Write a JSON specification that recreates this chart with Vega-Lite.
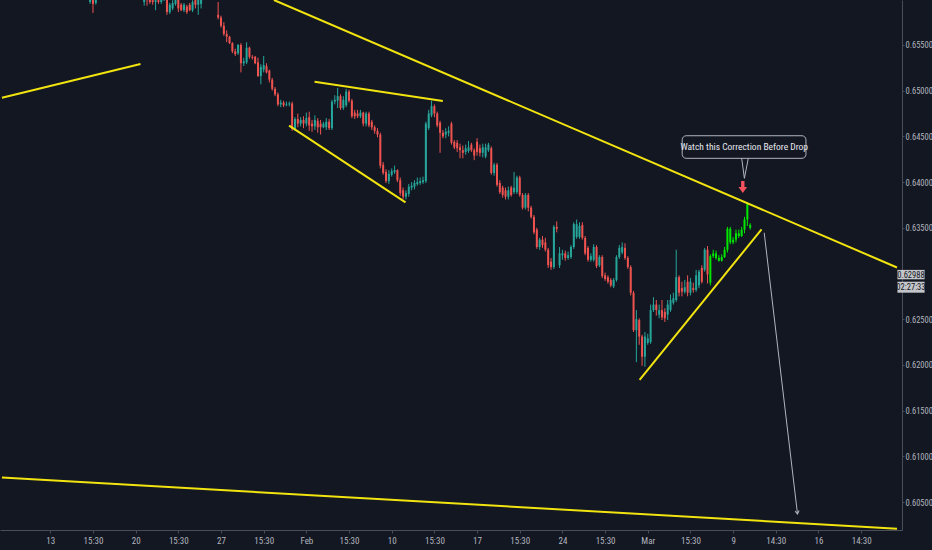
{
  "$schema": "https://vega.github.io/schema/vega-lite/v6.json",
  "description": "4h candles with drawn trend lines and a projected drop",
  "width": 902,
  "height": 530,
  "autosize": {"type": "none"},
  "padding": {"left": 0, "top": 0, "right": 30, "bottom": 20},
  "background": "#131722",
  "config": {
    "view": {"stroke": null},
    "font": "Roboto Condensed, Liberation Sans Narrow, Liberation Sans, sans-serif"
  },
  "datasets": {
    "candles": [
      {"bar": 14, "open": 0.6597, "high": 0.661, "low": 0.6595, "close": 0.6605},
      {"bar": 15, "open": 0.6602, "high": 0.6608, "low": 0.6585, "close": 0.6595},
      {"bar": 16, "open": 0.6596, "high": 0.6606, "low": 0.6594, "close": 0.6601},
      {"bar": 33, "open": 0.6597, "high": 0.6606, "low": 0.6593, "close": 0.6602},
      {"bar": 34, "open": 0.6602, "high": 0.6605, "low": 0.6593, "close": 0.6599},
      {"bar": 35, "open": 0.6601, "high": 0.6605, "low": 0.6595, "close": 0.6597},
      {"bar": 36, "open": 0.6599, "high": 0.6604, "low": 0.6594, "close": 0.6597},
      {"bar": 37, "open": 0.6597, "high": 0.6602, "low": 0.6588, "close": 0.6599},
      {"bar": 38, "open": 0.6599, "high": 0.6604, "low": 0.6595, "close": 0.6597},
      {"bar": 39, "open": 0.6597, "high": 0.6605, "low": 0.6595, "close": 0.6601},
      {"bar": 40, "open": 0.66, "high": 0.6608, "low": 0.6598, "close": 0.6604},
      {"bar": 41, "open": 0.6604, "high": 0.6606, "low": 0.6583, "close": 0.6586},
      {"bar": 42, "open": 0.6586, "high": 0.6596, "low": 0.6584, "close": 0.6594},
      {"bar": 43, "open": 0.659, "high": 0.6599, "low": 0.6588, "close": 0.6596},
      {"bar": 44, "open": 0.6595, "high": 0.6605, "low": 0.6593, "close": 0.6601},
      {"bar": 45, "open": 0.6601, "high": 0.6604, "low": 0.6586, "close": 0.659},
      {"bar": 46, "open": 0.6594, "high": 0.6596, "low": 0.6587, "close": 0.6588},
      {"bar": 47, "open": 0.6588, "high": 0.6596, "low": 0.6586, "close": 0.6594},
      {"bar": 48, "open": 0.6592, "high": 0.6594, "low": 0.6584, "close": 0.6586},
      {"bar": 49, "open": 0.6594, "high": 0.6596, "low": 0.6587, "close": 0.6588},
      {"bar": 50, "open": 0.6588, "high": 0.6599, "low": 0.6586, "close": 0.6597},
      {"bar": 51, "open": 0.6599, "high": 0.6602, "low": 0.659, "close": 0.6594},
      {"bar": 52, "open": 0.6594, "high": 0.6605, "low": 0.6583, "close": 0.6601},
      {"bar": 53, "open": 0.6595, "high": 0.6606, "low": 0.659, "close": 0.6602},
      {"bar": 59, "open": 0.6583, "high": 0.6597, "low": 0.6578, "close": 0.658},
      {"bar": 60, "open": 0.658, "high": 0.6582, "low": 0.6569, "close": 0.6571},
      {"bar": 61, "open": 0.6571, "high": 0.6575, "low": 0.656, "close": 0.6562},
      {"bar": 62, "open": 0.6562, "high": 0.6566, "low": 0.6553, "close": 0.6559},
      {"bar": 63, "open": 0.6559, "high": 0.656, "low": 0.6551, "close": 0.6552},
      {"bar": 64, "open": 0.6552, "high": 0.6553, "low": 0.6541, "close": 0.6543},
      {"bar": 65, "open": 0.6543, "high": 0.6546, "low": 0.6538, "close": 0.654},
      {"bar": 66, "open": 0.6541, "high": 0.6551, "low": 0.6539, "close": 0.655},
      {"bar": 67, "open": 0.655, "high": 0.6552, "low": 0.652, "close": 0.653},
      {"bar": 68, "open": 0.653, "high": 0.6536, "low": 0.6527, "close": 0.6532},
      {"bar": 69, "open": 0.6531, "high": 0.6553, "low": 0.6529, "close": 0.6547},
      {"bar": 70, "open": 0.6547, "high": 0.6548, "low": 0.6535, "close": 0.6537},
      {"bar": 71, "open": 0.6537, "high": 0.6539, "low": 0.6534, "close": 0.6536},
      {"bar": 72, "open": 0.6537, "high": 0.6538, "low": 0.6529, "close": 0.653},
      {"bar": 73, "open": 0.6531, "high": 0.6536, "low": 0.6515, "close": 0.6516},
      {"bar": 74, "open": 0.6516, "high": 0.6529, "low": 0.6507, "close": 0.6526},
      {"bar": 75, "open": 0.6523, "high": 0.6538, "low": 0.652, "close": 0.6528},
      {"bar": 76, "open": 0.6527, "high": 0.653, "low": 0.6519, "close": 0.652},
      {"bar": 77, "open": 0.6522, "high": 0.6523, "low": 0.6509, "close": 0.6512},
      {"bar": 78, "open": 0.6512, "high": 0.6514, "low": 0.65, "close": 0.6502},
      {"bar": 79, "open": 0.6502, "high": 0.6504, "low": 0.6494, "close": 0.6496},
      {"bar": 80, "open": 0.6496, "high": 0.6498, "low": 0.6483, "close": 0.6485},
      {"bar": 81, "open": 0.6485, "high": 0.649, "low": 0.6482, "close": 0.6487},
      {"bar": 82, "open": 0.6487, "high": 0.6489, "low": 0.6482, "close": 0.6484},
      {"bar": 83, "open": 0.6484, "high": 0.6488, "low": 0.6483, "close": 0.6485},
      {"bar": 84, "open": 0.6485, "high": 0.6488, "low": 0.6483, "close": 0.6486},
      {"bar": 85, "open": 0.6486, "high": 0.6488, "low": 0.6456, "close": 0.6458},
      {"bar": 86, "open": 0.6458, "high": 0.6471, "low": 0.6456, "close": 0.6469},
      {"bar": 87, "open": 0.6469, "high": 0.6475, "low": 0.646, "close": 0.6464},
      {"bar": 88, "open": 0.6464, "high": 0.6471, "low": 0.6461, "close": 0.6468},
      {"bar": 89, "open": 0.6468, "high": 0.6472, "low": 0.6459, "close": 0.6464},
      {"bar": 90, "open": 0.6464, "high": 0.6476, "low": 0.6461, "close": 0.647},
      {"bar": 91, "open": 0.6471, "high": 0.6477, "low": 0.6456, "close": 0.6462},
      {"bar": 92, "open": 0.6464, "high": 0.6468, "low": 0.6455, "close": 0.6461},
      {"bar": 93, "open": 0.6461, "high": 0.6473, "low": 0.6457, "close": 0.6468},
      {"bar": 94, "open": 0.6467, "high": 0.647, "low": 0.6454, "close": 0.646},
      {"bar": 95, "open": 0.6464, "high": 0.6468, "low": 0.6452, "close": 0.646},
      {"bar": 96, "open": 0.646, "high": 0.6466, "low": 0.6459, "close": 0.6464},
      {"bar": 97, "open": 0.646, "high": 0.647, "low": 0.6457, "close": 0.6466},
      {"bar": 98, "open": 0.6466, "high": 0.6469, "low": 0.6457, "close": 0.6459},
      {"bar": 99, "open": 0.6459, "high": 0.649, "low": 0.6457, "close": 0.6488},
      {"bar": 100, "open": 0.6488, "high": 0.6495, "low": 0.6485, "close": 0.649},
      {"bar": 101, "open": 0.6489, "high": 0.6503, "low": 0.6481, "close": 0.6494},
      {"bar": 102, "open": 0.6494, "high": 0.6496, "low": 0.6479, "close": 0.6481},
      {"bar": 103, "open": 0.6481, "high": 0.6494, "low": 0.6479, "close": 0.649},
      {"bar": 104, "open": 0.6484, "high": 0.6502, "low": 0.6482, "close": 0.6499},
      {"bar": 105, "open": 0.6499, "high": 0.6501, "low": 0.6487, "close": 0.6489},
      {"bar": 106, "open": 0.6489, "high": 0.6491, "low": 0.647, "close": 0.6472},
      {"bar": 107, "open": 0.6476, "high": 0.6479, "low": 0.6469, "close": 0.6472},
      {"bar": 108, "open": 0.6475, "high": 0.6479, "low": 0.647, "close": 0.6472},
      {"bar": 109, "open": 0.6472, "high": 0.6479, "low": 0.647, "close": 0.6476},
      {"bar": 110, "open": 0.6476, "high": 0.6477, "low": 0.6461, "close": 0.6464},
      {"bar": 111, "open": 0.6464, "high": 0.6477, "low": 0.6461, "close": 0.6475},
      {"bar": 112, "open": 0.6475, "high": 0.6477, "low": 0.646, "close": 0.6462},
      {"bar": 113, "open": 0.6466, "high": 0.6468, "low": 0.6457, "close": 0.646},
      {"bar": 114, "open": 0.646, "high": 0.6462, "low": 0.6453, "close": 0.6456},
      {"bar": 115, "open": 0.6456, "high": 0.6459, "low": 0.6449, "close": 0.6452},
      {"bar": 116, "open": 0.6452, "high": 0.6454, "low": 0.6415, "close": 0.6418},
      {"bar": 117, "open": 0.6419, "high": 0.6422, "low": 0.6408, "close": 0.641},
      {"bar": 118, "open": 0.6411, "high": 0.6414, "low": 0.6399, "close": 0.6401},
      {"bar": 119, "open": 0.6401, "high": 0.6413, "low": 0.6398, "close": 0.6409},
      {"bar": 120, "open": 0.6408, "high": 0.6415, "low": 0.6406, "close": 0.6412},
      {"bar": 121, "open": 0.6411, "high": 0.6418, "low": 0.6409, "close": 0.6413},
      {"bar": 122, "open": 0.6413, "high": 0.6414, "low": 0.64, "close": 0.6402},
      {"bar": 123, "open": 0.6402, "high": 0.6405, "low": 0.6385, "close": 0.6388},
      {"bar": 124, "open": 0.6391, "high": 0.6394, "low": 0.6381, "close": 0.6384},
      {"bar": 125, "open": 0.6384, "high": 0.6391, "low": 0.6381, "close": 0.6388},
      {"bar": 126, "open": 0.6387, "high": 0.6398, "low": 0.6384, "close": 0.6395},
      {"bar": 127, "open": 0.6394, "high": 0.64, "low": 0.6391, "close": 0.6396},
      {"bar": 128, "open": 0.6395, "high": 0.6402, "low": 0.6392, "close": 0.6399},
      {"bar": 129, "open": 0.6398, "high": 0.6405, "low": 0.6396, "close": 0.64},
      {"bar": 130, "open": 0.6399, "high": 0.6405, "low": 0.6397, "close": 0.6401},
      {"bar": 131, "open": 0.64, "high": 0.6406, "low": 0.6398, "close": 0.6402},
      {"bar": 132, "open": 0.6401, "high": 0.6466, "low": 0.6399, "close": 0.6464},
      {"bar": 133, "open": 0.6459, "high": 0.6479, "low": 0.6457, "close": 0.6475},
      {"bar": 134, "open": 0.6473, "high": 0.6489, "low": 0.6471, "close": 0.6483},
      {"bar": 135, "open": 0.6483, "high": 0.6485, "low": 0.6471, "close": 0.6475},
      {"bar": 136, "open": 0.6475, "high": 0.6477, "low": 0.646, "close": 0.6462},
      {"bar": 137, "open": 0.6465, "high": 0.6467, "low": 0.6432, "close": 0.6454},
      {"bar": 138, "open": 0.6454, "high": 0.6457, "low": 0.6448, "close": 0.645},
      {"bar": 139, "open": 0.6452, "high": 0.6459, "low": 0.6448, "close": 0.6455},
      {"bar": 140, "open": 0.6454, "high": 0.6461, "low": 0.645, "close": 0.6456},
      {"bar": 141, "open": 0.6464, "high": 0.6466, "low": 0.6441, "close": 0.6443},
      {"bar": 142, "open": 0.6444, "high": 0.6446, "low": 0.6436, "close": 0.6438},
      {"bar": 143, "open": 0.6443, "high": 0.6446, "low": 0.6433, "close": 0.6437},
      {"bar": 144, "open": 0.6438, "high": 0.6442, "low": 0.6426, "close": 0.6435},
      {"bar": 145, "open": 0.6435, "high": 0.644, "low": 0.6426, "close": 0.6432},
      {"bar": 146, "open": 0.6433, "high": 0.6441, "low": 0.643, "close": 0.6437},
      {"bar": 147, "open": 0.6434, "high": 0.6445, "low": 0.6432, "close": 0.6438},
      {"bar": 148, "open": 0.6441, "high": 0.6443, "low": 0.6433, "close": 0.6435},
      {"bar": 149, "open": 0.6435, "high": 0.6437, "low": 0.6424, "close": 0.6429},
      {"bar": 150, "open": 0.6444, "high": 0.6448, "low": 0.6429, "close": 0.6433},
      {"bar": 151, "open": 0.6437, "high": 0.6441, "low": 0.6428, "close": 0.6432},
      {"bar": 152, "open": 0.6432, "high": 0.6442, "low": 0.6427, "close": 0.6438},
      {"bar": 153, "open": 0.6428, "high": 0.6442, "low": 0.6426, "close": 0.6438},
      {"bar": 154, "open": 0.6435, "high": 0.6443, "low": 0.6433, "close": 0.6441},
      {"bar": 155, "open": 0.6437, "high": 0.6439, "low": 0.6408, "close": 0.641},
      {"bar": 156, "open": 0.641, "high": 0.6421, "low": 0.6407, "close": 0.6419},
      {"bar": 157, "open": 0.6419, "high": 0.6421, "low": 0.6395, "close": 0.6397},
      {"bar": 158, "open": 0.6399, "high": 0.6402, "low": 0.6387, "close": 0.6389},
      {"bar": 159, "open": 0.6394, "high": 0.6396, "low": 0.6383, "close": 0.6386},
      {"bar": 160, "open": 0.6391, "high": 0.6394, "low": 0.6381, "close": 0.6384},
      {"bar": 161, "open": 0.6384, "high": 0.6395, "low": 0.6381, "close": 0.6391},
      {"bar": 162, "open": 0.6394, "high": 0.6396, "low": 0.6384, "close": 0.6386},
      {"bar": 163, "open": 0.6389, "high": 0.6411, "low": 0.6387, "close": 0.6394},
      {"bar": 164, "open": 0.6389, "high": 0.6407, "low": 0.6387, "close": 0.6405},
      {"bar": 165, "open": 0.6405, "high": 0.6407, "low": 0.6384, "close": 0.6386},
      {"bar": 166, "open": 0.6386, "high": 0.6388, "low": 0.637, "close": 0.6372},
      {"bar": 167, "open": 0.6372, "high": 0.6388, "low": 0.637, "close": 0.6386},
      {"bar": 168, "open": 0.6386, "high": 0.6388, "low": 0.6368, "close": 0.6372},
      {"bar": 169, "open": 0.6372, "high": 0.6374, "low": 0.636, "close": 0.6362},
      {"bar": 170, "open": 0.6362, "high": 0.6364, "low": 0.6343, "close": 0.6345},
      {"bar": 171, "open": 0.6348, "high": 0.635, "low": 0.6327, "close": 0.6329},
      {"bar": 172, "open": 0.6329, "high": 0.6339, "low": 0.6326, "close": 0.6337},
      {"bar": 173, "open": 0.6337, "high": 0.6341, "low": 0.6328, "close": 0.6331},
      {"bar": 174, "open": 0.6334, "high": 0.6339, "low": 0.6324, "close": 0.6326},
      {"bar": 175, "open": 0.6326, "high": 0.6328, "low": 0.6306, "close": 0.6309},
      {"bar": 176, "open": 0.6313, "high": 0.6317, "low": 0.6304, "close": 0.6307},
      {"bar": 177, "open": 0.6307, "high": 0.6353, "low": 0.6305, "close": 0.6351},
      {"bar": 178, "open": 0.6351, "high": 0.6357, "low": 0.6345, "close": 0.6349},
      {"bar": 179, "open": 0.6309, "high": 0.6329, "low": 0.6306, "close": 0.6322},
      {"bar": 180, "open": 0.632, "high": 0.6326, "low": 0.6315, "close": 0.6322},
      {"bar": 181, "open": 0.6322, "high": 0.6325, "low": 0.6314, "close": 0.6317},
      {"bar": 182, "open": 0.6317, "high": 0.6324, "low": 0.6315, "close": 0.632},
      {"bar": 183, "open": 0.6318, "high": 0.6331, "low": 0.6316, "close": 0.6329},
      {"bar": 184, "open": 0.6329, "high": 0.6356, "low": 0.6327, "close": 0.6354},
      {"bar": 185, "open": 0.634, "high": 0.6359, "low": 0.6338, "close": 0.6354},
      {"bar": 186, "open": 0.634, "high": 0.6356, "low": 0.6338, "close": 0.6352},
      {"bar": 187, "open": 0.6353, "high": 0.6356, "low": 0.6337, "close": 0.6339},
      {"bar": 188, "open": 0.6339, "high": 0.6341, "low": 0.632, "close": 0.6322},
      {"bar": 189, "open": 0.6328, "high": 0.633, "low": 0.6313, "close": 0.6315},
      {"bar": 190, "open": 0.6315, "high": 0.6322, "low": 0.6313, "close": 0.6319},
      {"bar": 191, "open": 0.6315, "high": 0.6332, "low": 0.6313, "close": 0.6329},
      {"bar": 192, "open": 0.6329, "high": 0.6331, "low": 0.6306, "close": 0.6308},
      {"bar": 193, "open": 0.6309, "high": 0.632, "low": 0.6307, "close": 0.6318},
      {"bar": 194, "open": 0.6318, "high": 0.632, "low": 0.6295, "close": 0.6297},
      {"bar": 195, "open": 0.6298, "high": 0.6301, "low": 0.6292, "close": 0.6294},
      {"bar": 196, "open": 0.6296, "high": 0.6298, "low": 0.6289, "close": 0.6291},
      {"bar": 197, "open": 0.6293, "high": 0.6295, "low": 0.6285, "close": 0.6287},
      {"bar": 198, "open": 0.6286, "high": 0.6295, "low": 0.6284, "close": 0.6293},
      {"bar": 199, "open": 0.6293, "high": 0.632, "low": 0.6291, "close": 0.6318},
      {"bar": 200, "open": 0.6318, "high": 0.6331, "low": 0.6316, "close": 0.6328},
      {"bar": 201, "open": 0.6323, "high": 0.6334, "low": 0.6321, "close": 0.6329},
      {"bar": 202, "open": 0.6328, "high": 0.6333, "low": 0.6315, "close": 0.6317},
      {"bar": 203, "open": 0.6317, "high": 0.6319, "low": 0.6305, "close": 0.6307},
      {"bar": 204, "open": 0.6307, "high": 0.6309, "low": 0.6276, "close": 0.6279},
      {"bar": 205, "open": 0.6279, "high": 0.6281, "low": 0.6236, "close": 0.6238},
      {"bar": 206, "open": 0.6238, "high": 0.626, "low": 0.6203, "close": 0.625},
      {"bar": 207, "open": 0.6249, "high": 0.6251, "low": 0.6222, "close": 0.6231},
      {"bar": 208, "open": 0.6231, "high": 0.6233, "low": 0.6199, "close": 0.6209},
      {"bar": 209, "open": 0.6209, "high": 0.6236, "low": 0.6198, "close": 0.6231},
      {"bar": 210, "open": 0.6224, "high": 0.6234, "low": 0.6222, "close": 0.6229},
      {"bar": 211, "open": 0.6225, "high": 0.6266, "low": 0.6223, "close": 0.626},
      {"bar": 212, "open": 0.626, "high": 0.6274, "low": 0.6258, "close": 0.6266},
      {"bar": 213, "open": 0.6266, "high": 0.6271, "low": 0.6254, "close": 0.626},
      {"bar": 214, "open": 0.6255, "high": 0.6266, "low": 0.6251, "close": 0.626},
      {"bar": 215, "open": 0.626, "high": 0.6271, "low": 0.6249, "close": 0.6252},
      {"bar": 216, "open": 0.6258, "high": 0.6262, "low": 0.6247, "close": 0.6251},
      {"bar": 217, "open": 0.6255, "high": 0.6271, "low": 0.6249, "close": 0.6266},
      {"bar": 218, "open": 0.626, "high": 0.6277, "low": 0.6258, "close": 0.6271},
      {"bar": 219, "open": 0.6268, "high": 0.6279, "low": 0.6266, "close": 0.6273},
      {"bar": 220, "open": 0.6271, "high": 0.6326, "low": 0.6269, "close": 0.6296},
      {"bar": 221, "open": 0.6296, "high": 0.6298, "low": 0.6275, "close": 0.6279},
      {"bar": 222, "open": 0.6284, "high": 0.6291, "low": 0.6275, "close": 0.628},
      {"bar": 223, "open": 0.628, "high": 0.6293, "low": 0.6278, "close": 0.6285},
      {"bar": 224, "open": 0.6291, "high": 0.6298, "low": 0.6275, "close": 0.6279},
      {"bar": 225, "open": 0.6279, "high": 0.6295, "low": 0.6276, "close": 0.6291},
      {"bar": 226, "open": 0.6284, "high": 0.629, "low": 0.6279, "close": 0.6282},
      {"bar": 227, "open": 0.6282, "high": 0.6304, "low": 0.628, "close": 0.6298},
      {"bar": 228, "open": 0.6287, "high": 0.6304, "low": 0.6284, "close": 0.6302},
      {"bar": 229, "open": 0.6306, "high": 0.6309, "low": 0.6289, "close": 0.6291},
      {"bar": 230, "open": 0.6304, "high": 0.6328, "low": 0.6302, "close": 0.6326},
      {"bar": 231, "open": 0.6326, "high": 0.633, "low": 0.6289, "close": 0.6299},
      {"bar": 232, "open": 0.629, "high": 0.6321, "low": 0.6287, "close": 0.6319},
      {"bar": 233, "open": 0.6319, "high": 0.6326, "low": 0.6317, "close": 0.6322},
      {"bar": 234, "open": 0.6322, "high": 0.6325, "low": 0.6315, "close": 0.6317},
      {"bar": 235, "open": 0.6317, "high": 0.632, "low": 0.6313, "close": 0.6314},
      {"bar": 236, "open": 0.6314, "high": 0.6321, "low": 0.6313, "close": 0.6318},
      {"bar": 237, "open": 0.6318, "high": 0.6329, "low": 0.6317, "close": 0.6326},
      {"bar": 238, "open": 0.6326, "high": 0.6351, "low": 0.6323, "close": 0.6349},
      {"bar": 239, "open": 0.6349, "high": 0.6351, "low": 0.6332, "close": 0.6334},
      {"bar": 240, "open": 0.6334, "high": 0.634, "low": 0.6332, "close": 0.6337},
      {"bar": 241, "open": 0.6337, "high": 0.6348, "low": 0.6334, "close": 0.6344},
      {"bar": 242, "open": 0.6344, "high": 0.6348, "low": 0.6339, "close": 0.6341},
      {"bar": 243, "open": 0.6341, "high": 0.6351, "low": 0.634, "close": 0.6348},
      {"bar": 244, "open": 0.6348, "high": 0.6362, "low": 0.6344, "close": 0.6359},
      {"bar": 245, "open": 0.6359, "high": 0.6378, "low": 0.6352, "close": 0.6376},
      {"bar": 246, "open": 0.6353, "high": 0.6355, "low": 0.6348, "close": 0.635}
    ],
    "trendlines": [
      {"line": "left", "bar": -17, "price": 0.64923},
      {"line": "left", "bar": 31.7, "price": 0.65292},
      {"line": "channel", "bar": 78.6, "price": 0.65992},
      {"line": "channel", "bar": 297.6, "price": 0.63066},
      {"line": "wedge top", "bar": 92.88, "price": 0.65098},
      {"line": "wedge top", "bar": 137.96, "price": 0.64887},
      {"line": "wedge bottom", "bar": 83.94, "price": 0.64617},
      {"line": "wedge bottom", "bar": 124.85, "price": 0.63779},
      {"line": "rising", "bar": 207.13, "price": 0.61835},
      {"line": "rising", "bar": 249.98, "price": 0.63484},
      {"line": "floor", "bar": -17, "price": 0.60768},
      {"line": "floor", "bar": 297.6, "price": 0.60208}
    ],
    "projection": [
      {"bar": 250.92, "price": 0.63446},
      {"bar": 262.63, "price": 0.60369}
    ],
    "note": [
      {"bar1": 222.1, "bar2": 265.6, "top": 0.64507, "bottom": 0.6426, "bar": 243.9, "price": 0.64384, "text": "Watch this Correction Before Drop"}
    ],
    "pointer": [
      {"step": 1, "bar": 243.0, "price": 0.64263},
      {"step": 2, "bar": 243.96, "price": 0.64041},
      {"step": 3, "bar": 245.36, "price": 0.64263}
    ],
    "signal": [{"bar": 243.4, "price": 0.63946}],
    "last": [{"price": 0.62988, "label": "0.62988", "countdown": "02:27:33"}]
  },
  "resolve": {"axis": {"x": "independent", "y": "independent"}},
  "layer": [
    {
      "data": {"name": "candles"},
      "mark": {"type": "rule", "strokeWidth": 1, "clip": true},
      "encoding": {
        "x": {
          "field": "bar", "type": "quantitative",
          "scale": {"domain": [-15.92, 297.6], "nice": false, "zero": false},
          "axis": {
            "orient": "bottom", "title": null, "grid": false,
            "values": [0, 15, 30, 45, 60, 75, 90, 105, 120, 135, 150, 165, 180, 195, 210, 225, 240, 255, 270, 285],
            "labelExpr": "['13','15:30','20','15:30','27','15:30','Feb','15:30','10','15:30','17','15:30','24','15:30','Mar','15:30','9','14:30','16','14:30'][round(datum.value / 15)]",
            "domainColor": "#4a4e59", "tickColor": "#4a4e59", "tickSize": 3,
            "labelColor": "#b2b5be", "labelFontSize": 9, "labelPadding": 3,
            "labelOverlap": false, "labelFlush": false
          }
        },
        "y": {
          "field": "low", "type": "quantitative",
          "scale": {"domain": [0.60194, 0.65992], "nice": false, "zero": false},
          "axis": {
            "orient": "right", "title": null, "grid": false,
            "values": [0.605, 0.61, 0.615, 0.62, 0.625, 0.635, 0.64, 0.645, 0.65, 0.655],
            "format": ".5f",
            "domainColor": "#4a4e59", "tickColor": "#4a4e59", "tickSize": 2,
            "labelColor": "#b2b5be", "labelFontSize": 8.5, "labelPadding": 1,
            "labelOverlap": false, "labelFlush": false
          }
        },
        "y2": {"field": "high"},
        "color": {
          "condition": [
            {"test": "datum.bar >= 232", "value": "#00e600"},
            {"test": "datum.close >= datum.open", "value": "#26a69a"}
          ],
          "value": "#ef5350"
        }
      }
    },
    {
      "data": {"name": "candles"},
      "mark": {"type": "bar", "width": 2, "clip": true},
      "encoding": {
        "x": {"field": "bar", "type": "quantitative", "axis": null},
        "y": {"field": "open", "type": "quantitative", "axis": null},
        "y2": {"field": "close"},
        "color": {
          "condition": [
            {"test": "datum.bar >= 232", "value": "#00e600"},
            {"test": "datum.close >= datum.open", "value": "#26a69a"}
          ],
          "value": "#ef5350"
        }
      }
    },
    {
      "data": {"name": "trendlines"},
      "mark": {"type": "line", "color": "#f2e40f", "strokeWidth": 2, "clip": true},
      "encoding": {
        "x": {"field": "bar", "type": "quantitative", "axis": null},
        "y": {"field": "price", "type": "quantitative", "axis": null},
        "detail": {"field": "line"}
      }
    },
    {
      "data": {"name": "projection"},
      "mark": {"type": "line", "color": "#b2b5be", "strokeWidth": 1},
      "encoding": {
        "x": {"field": "bar", "type": "quantitative", "axis": null},
        "y": {"field": "price", "type": "quantitative", "axis": null}
      }
    },
    {
      "data": {"name": "projection"},
      "transform": [{"filter": "datum.bar > 260"}],
      "mark": {"type": "point", "shape": "M-1,-1.6L0,0L1,-1.6", "size": 16, "filled": false, "color": "#b2b5be", "strokeWidth": 1, "angle": -7, "opacity": 1},
      "encoding": {
        "x": {"field": "bar", "type": "quantitative", "axis": null},
        "y": {"field": "price", "type": "quantitative", "axis": null}
      }
    },
    {
      "data": {"name": "note"},
      "mark": {"type": "rect", "fill": "#131722", "stroke": "#b2b5be", "strokeWidth": 1, "cornerRadius": 4},
      "encoding": {
        "x": {"field": "bar1", "type": "quantitative", "axis": null},
        "x2": {"field": "bar2"},
        "y": {"field": "top", "type": "quantitative", "axis": null},
        "y2": {"field": "bottom"}
      }
    },
    {
      "data": {"name": "pointer"},
      "mark": {"type": "line", "color": "#b2b5be", "strokeWidth": 1},
      "encoding": {
        "x": {"field": "bar", "type": "quantitative", "axis": null},
        "y": {"field": "price", "type": "quantitative", "axis": null},
        "order": {"field": "step"}
      }
    },
    {
      "data": {"name": "note"},
      "mark": {"type": "text", "color": "#e6e8ee", "fontSize": 9.5, "align": "center", "baseline": "middle"},
      "encoding": {
        "x": {"field": "bar", "type": "quantitative", "axis": null},
        "y": {"field": "price", "type": "quantitative", "axis": null},
        "text": {"field": "text"}
      }
    },
    {
      "data": {"name": "signal"},
      "mark": {"type": "point", "shape": "M-0.28,-1L0.28,-1L0.28,0L0.72,0L0,1L-0.72,0L-0.28,0Z", "size": 144, "filled": true, "color": "#f7525f", "opacity": 1},
      "encoding": {
        "x": {"field": "bar", "type": "quantitative", "axis": null},
        "y": {"field": "price", "type": "quantitative", "axis": null}
      }
    },
    {
      "data": {"name": "last"},
      "mark": {"type": "rect", "fill": "#c3c5ca", "yOffset": -4.7, "y2Offset": 4.7},
      "encoding": {
        "x": {"datum": 297.75, "type": "quantitative", "axis": null},
        "x2": {"datum": 307.3},
        "y": {"field": "price", "type": "quantitative", "axis": null},
        "y2": {"field": "price"}
      }
    },
    {
      "data": {"name": "last"},
      "mark": {"type": "rect", "fill": "#c3c5ca", "yOffset": 7.1, "y2Offset": 18.1},
      "encoding": {
        "x": {"datum": 297.75, "type": "quantitative", "axis": null},
        "x2": {"datum": 307.3},
        "y": {"field": "price", "type": "quantitative", "axis": null},
        "y2": {"field": "price"}
      }
    },
    {
      "data": {"name": "last"},
      "mark": {"type": "text", "color": "#131722", "fontSize": 8.5, "align": "center", "baseline": "middle"},
      "encoding": {
        "x": {"datum": 302.5, "type": "quantitative", "axis": null},
        "y": {"field": "price", "type": "quantitative", "axis": null},
        "text": {"field": "label"}
      }
    },
    {
      "data": {"name": "last"},
      "mark": {"type": "text", "color": "#131722", "fontSize": 8.5, "align": "center", "baseline": "middle", "dy": 12.6},
      "encoding": {
        "x": {"datum": 302.5, "type": "quantitative", "axis": null},
        "y": {"field": "price", "type": "quantitative", "axis": null},
        "text": {"field": "countdown"}
      }
    }
  ]
}
